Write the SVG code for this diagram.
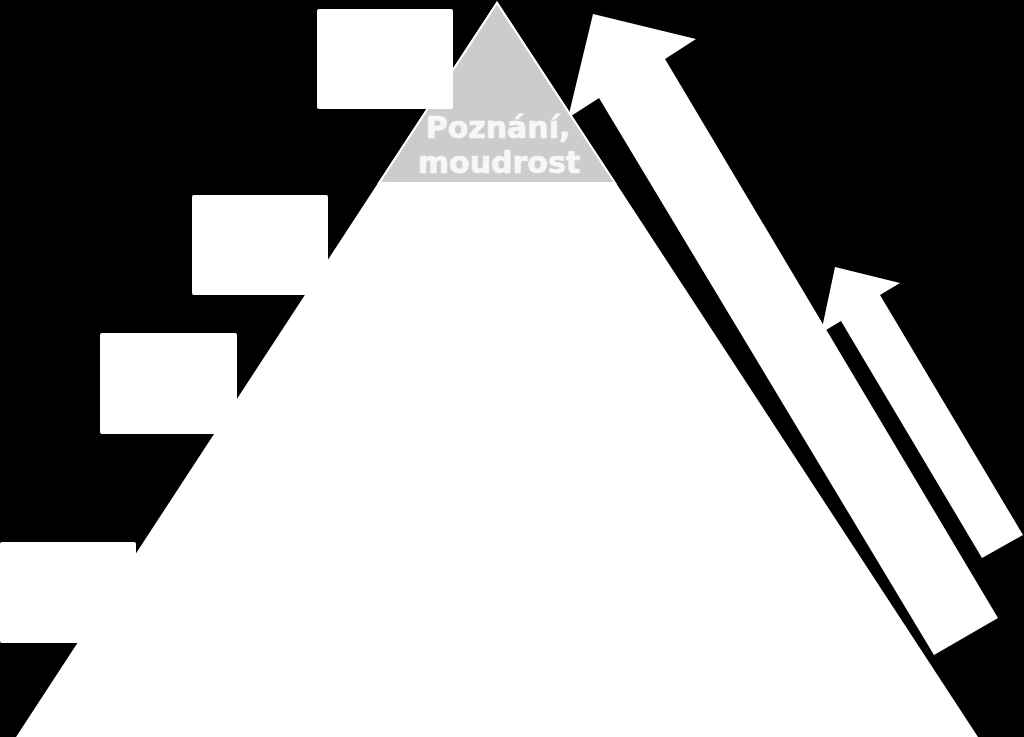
<svg xmlns="http://www.w3.org/2000/svg" width="1024" height="737" viewBox="0 0 1024 737">
<style>
.box{fill:#ffffff;}
.arrow{fill:#ffffff;}
.lbl{font-family:"DejaVu Sans","Liberation Sans",sans-serif;font-weight:bold;font-size:30px;fill:#f7f7f7;stroke:#f7f7f7;stroke-width:0.7;text-anchor:middle;}
</style>
<rect x="0" y="0" width="1024" height="737" fill="#000000"/>
<g id="connectors">
<polygon id="arrow-big" class="arrow" points="593,14 696,39 665,59 998,618 934,655 599,98 568,118"/>
<polygon id="arrow-small" class="arrow" points="835,267 900,283 880,295 1023,535 982,558 841,321 821,333"/>
</g>
<g id="pyramid">
<polygon points="497,1 16,737 978,737" fill="#ffffff"/>
</g>
<g id="top">
<polygon points="497,3 379,183 615,183" fill="#cccccc" stroke="#ffffff" stroke-width="2"/>
<text class="lbl" x="498" y="138">Poznání,</text>
<text class="lbl" x="499" y="173">moudrost</text>
</g>
<g id="box1"><rect class="box" x="317" y="9" width="136" height="100" rx="2"/></g>
<g id="box2"><rect class="box" x="192" y="195" width="136" height="100" rx="2"/></g>
<g id="box3"><rect class="box" x="100" y="333" width="137" height="101" rx="2"/></g>
<g id="box4"><rect class="box" x="0" y="542" width="136" height="101" rx="2"/></g>
</svg>
